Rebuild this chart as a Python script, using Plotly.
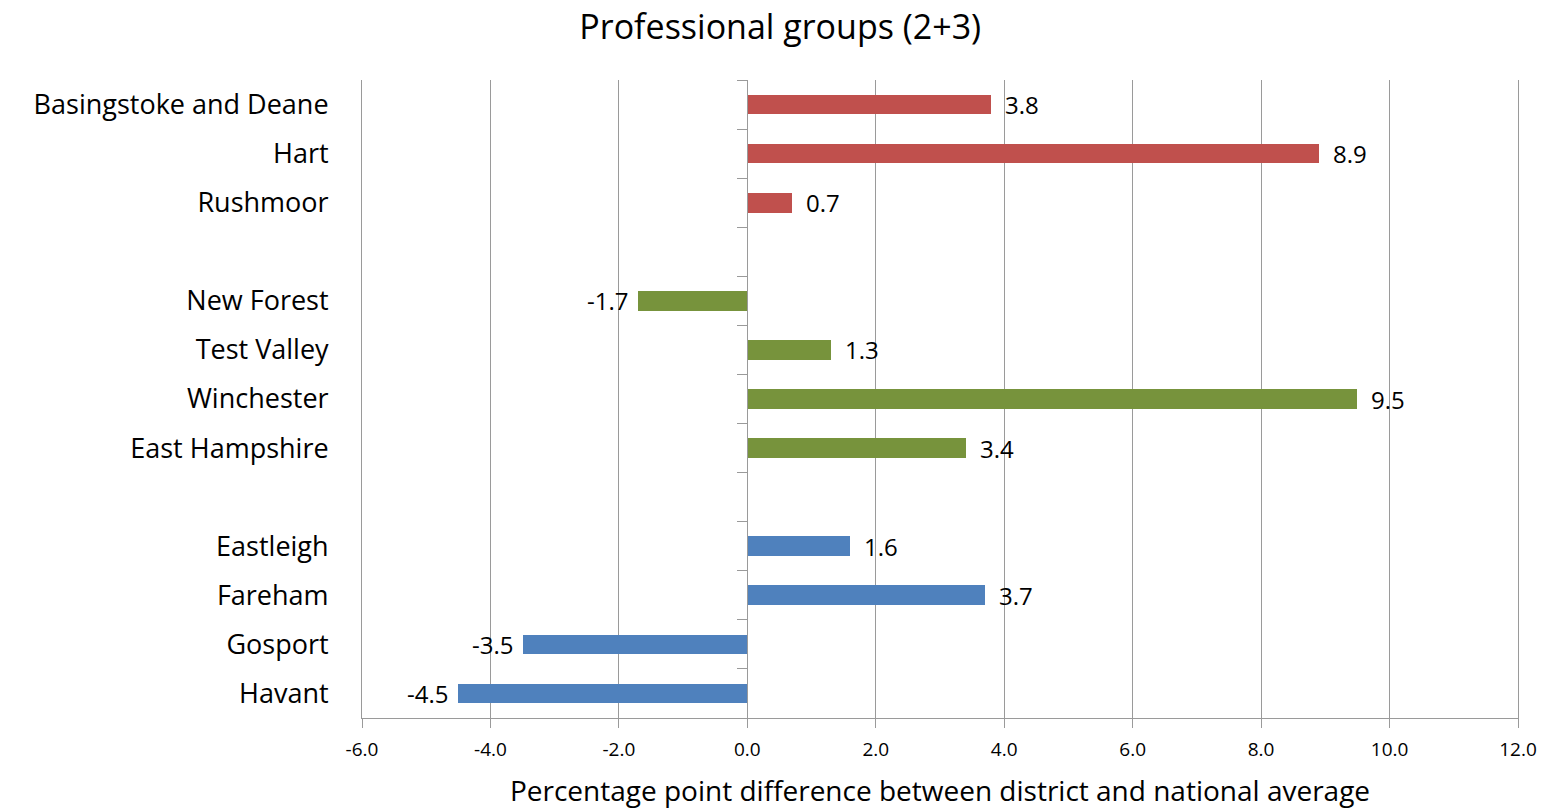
import plotly.graph_objects as go

chart_title = "Professional groups (2+3)"
x_title = "Percentage point difference between district and national average"

north_districts = ["Basingstoke and Deane", "Hart", "Rushmoor"]
north_values = [3.8, 8.9, 0.7]
west_districts = ["New Forest", "Test Valley", "Winchester", "East Hampshire"]
west_values = [-1.7, 1.3, 9.5, 3.4]
south_districts = ["Eastleigh", "Fareham", "Gosport", "Havant"]
south_values = [1.6, 3.7, -3.5, -4.5]

x_ticks = [-6, -4, -2, 0, 2, 4, 6, 8, 10, 12]

groups = [
    (north_districts, north_values, "#C0504D"),
    (west_districts, west_values, "#77933C"),
    (south_districts, south_values, "#4F81BD"),
]

FONT = "Open Sans"
GRID = "#9a9a9a"

fig = go.Figure()
annotations = []
tickvals, ticktext = [], []
slot = 0
for names, vals, color in groups:
    pos = list(range(slot, slot + len(names)))
    fig.add_trace(go.Bar(
        x=vals, y=pos, orientation="h", width=0.4,
        marker=dict(color=color, line=dict(width=0)),
        showlegend=False, hoverinfo="x+text", text=names, textposition="none",
    ))
    for p, v, n in zip(pos, vals, names):
        tickvals.append(p)
        ticktext.append(n)
        annotations.append(dict(
            x=v, y=p, xref="x", yref="y", text=f"{v:.1f}", showarrow=False,
            xanchor="left" if v >= 0 else "right", xshift=12 if v >= 0 else -8,
            font=dict(family=FONT, size=24, color="#000"),
        ))
    slot += len(names) + 1

n_slots = slot - 1
boundaries = [i - 0.5 for i in range(n_slots + 1)]

# invisible trace so the zero-line axis is drawn
fig.add_trace(go.Scatter(x=[0], y=[0], yaxis="y2", mode="markers",
                         marker=dict(opacity=0), showlegend=False, hoverinfo="skip"))

fig.update_layout(
    width=1545, height=809,
    paper_bgcolor="white", plot_bgcolor="white",
    margin=dict(l=362, r=27, t=80, b=91, autoexpand=False),
    title=dict(text=chart_title, x=0.505, xanchor="center", y=0.967, yanchor="middle",
               font=dict(family=FONT, size=34, color="#000")),
    font=dict(family=FONT, color="#000"),
    xaxis=dict(
        range=[-6, 12], tickvals=x_ticks, ticktext=[f"{t:.1f}" for t in x_ticks],
        showgrid=True, gridcolor=GRID, gridwidth=1, zeroline=False,
        showline=True, linecolor=GRID, linewidth=1,
        ticks="outside", ticklen=9, tickcolor=GRID,
        ticklabelstandoff=5,
        tickfont=dict(family=FONT, size=19, color="#000"),
        automargin=False,
        title=dict(text=x_title, font=dict(family=FONT, size=28, color="#000"), standoff=26),
    ),
    yaxis=dict(
        range=[n_slots - 0.5, -0.5], tickvals=tickvals, ticktext=ticktext,
        showgrid=False, zeroline=False, showline=True, mirror=True,
        linecolor=GRID, linewidth=1, ticks="",
        ticklabelstandoff=27, automargin=False,
        tickfont=dict(family=FONT, size=27, color="#000"),
    ),
    yaxis2=dict(
        range=[n_slots - 0.5, -0.5], overlaying="y", anchor="free", position=6 / 18,
        side="left", tickvals=boundaries, showticklabels=False, automargin=False,
        showgrid=False, zeroline=False, showline=True, linecolor=GRID, linewidth=1,
        ticks="outside", ticklen=10, tickcolor=GRID,
    ),
    annotations=annotations,
    bargap=0,
)

fig.write_html("out.html", config={"displayModeBar": False},
               post_script="document.body.style.margin='0';")
